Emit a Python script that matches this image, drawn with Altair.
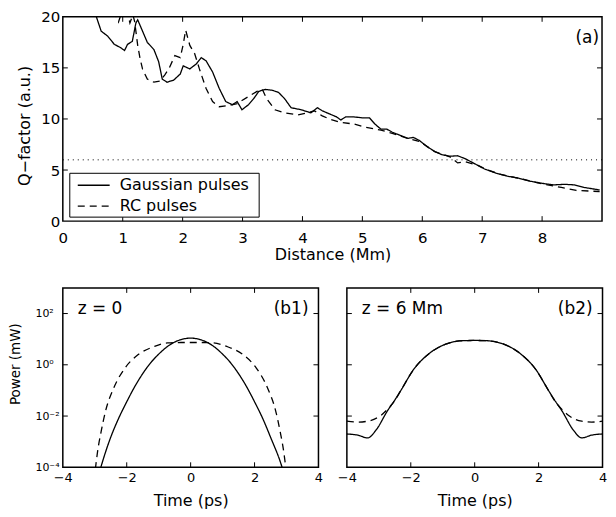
import altair as alt
import pandas as pd

FONT = "DejaVu Sans"

# ---------------- data: panel (a) ----------------
series_names = ["Gaussian pulses", "RC pulses"]

gauss_dist = [0.45, 0.56, 0.64, 0.75, 0.86, 0.96, 1.03, 1.08, 1.16, 1.22, 1.25, 1.33, 1.41, 1.52,
              1.60, 1.66, 1.74, 1.85, 1.96, 2.01, 2.12, 2.23, 2.31, 2.39, 2.50, 2.61, 2.72, 2.83,
              2.91, 2.99, 3.10, 3.20, 3.27, 3.38, 3.50, 3.60, 3.70, 3.81, 3.98, 4.14, 4.25, 4.33,
              4.45, 4.57, 4.64, 4.72, 4.86, 5.02, 5.12, 5.21, 5.31, 5.41, 5.50, 5.63, 5.76, 5.85,
              5.95, 6.08, 6.21, 6.33, 6.46, 6.59, 6.72, 6.88, 7.04, 7.23, 7.42, 7.61, 7.81, 8.00,
              8.19, 8.38, 8.54, 8.70, 8.96]
gauss_q = [21.5, 20.0, 18.6, 18.1, 17.3, 17.0, 16.7, 17.3, 17.6, 19.4, 19.7, 18.6, 17.5, 16.8,
           15.6, 13.9, 13.6, 13.8, 14.4, 15.2, 14.9, 15.4, 16.0, 15.7, 14.6, 13.0, 11.7, 11.4,
           11.7, 10.9, 11.4, 12.1, 12.7, 12.9, 12.8, 12.6, 12.0, 11.1, 10.9, 10.6, 11.1, 10.8,
           10.5, 10.2, 9.9, 10.2, 10.2, 10.1, 10.1, 9.5, 9.0, 9.0, 8.7, 8.4, 8.1, 8.2,
           7.9, 7.3, 6.8, 6.5, 6.35, 6.4, 6.1, 5.6, 5.1, 4.7, 4.4, 4.2, 3.9, 3.7,
           3.55, 3.6, 3.55, 3.3, 3.05]

rc_dist = [0.85, 0.93, 0.98, 1.08, 1.12, 1.17, 1.20, 1.25, 1.29, 1.33, 1.41, 1.52, 1.62, 1.70,
           1.77, 1.87, 1.96, 2.01, 2.05, 2.12, 2.20, 2.28, 2.39, 2.50, 2.61, 2.75, 2.91, 2.99,
           3.10, 3.24, 3.33, 3.40, 3.54, 3.70, 3.92, 4.09, 4.20, 4.33, 4.45, 4.61, 4.86, 5.05,
           5.31, 5.50, 5.76, 5.95, 6.21, 6.46, 6.59, 6.72, 6.91, 7.10, 7.29, 7.61, 8.00, 8.32,
           8.57, 8.96]
rc_q = [20.6, 19.5, 20.4, 20.4, 19.4, 20.2, 19.5, 17.2, 15.9, 14.9, 13.9, 13.6, 13.7, 14.3,
        14.9, 16.2, 16.0, 17.3, 18.7, 17.2, 16.4, 14.9, 13.0, 11.7, 11.2, 11.3, 11.5, 11.8,
        12.2, 12.7, 12.9, 12.0, 10.9, 10.6, 10.4, 10.6, 10.8, 10.3, 10.0, 9.7, 9.5, 9.2,
        8.9, 8.6, 8.1, 7.8, 6.8, 6.3, 5.7, 5.8, 5.5, 5.0, 4.6, 4.2, 3.65, 3.3,
        3.0, 2.9]

q_threshold = [6]
dist_ticks = [0, 1, 2, 3, 4, 5, 6, 7, 8]
q_ticks = [0, 5, 10, 15, 20]

# ---------------- data: panels (b1), (b2) ----------------
b1_gauss_t = [-2.9, -2.81, -2.5, -2.25, -2.0, -1.75, -1.5, -1.25, -1.0, -0.75, -0.5, -0.25, 0.0,
              0.25, 0.5, 0.75, 1.0, 1.25, 1.5, 1.75, 2.0, 2.25, 2.5, 2.86, 2.95]
b1_gauss_p = [4e-5, 1e-4, 1.5e-3, 8.3e-3, 0.036, 0.14, 0.45, 1.2, 2.6, 4.9, 7.7, 10.0, 11.0,
              10.0, 7.7, 4.9, 2.6, 1.2, 0.45, 0.14, 0.036, 8.3e-3, 1.5e-3, 1e-4, 4e-5]

b1_rc_t = [-3.05, -3.0, -2.92, -2.8, -2.66, -2.4, -2.05, -1.64, -1.13, -0.72, -0.3, 0.0,
           0.3, 0.72, 1.13, 1.64, 2.05, 2.4, 2.66, 2.8, 2.92, 3.0, 3.05]
b1_rc_p = [1e-5, 5e-5, 3.5e-4, 2.5e-3, 0.016, 0.13, 0.76, 2.5, 5.2, 7.1, 7.4, 7.4,
           7.4, 7.1, 5.2, 2.5, 0.76, 0.13, 0.016, 2.5e-3, 3.5e-4, 5e-5, 1e-5]

b2_gauss_t = [-4.0, -3.66, -3.35, -3.09, -2.73, -2.5, -2.32, -1.91, -1.40, -0.89, -0.38, 0.0,
              0.38, 0.89, 1.40, 1.91, 2.32, 2.5, 2.73, 3.09, 3.35, 3.66, 4.0]
b2_gauss_p = [2.0e-3, 1.8e-3, 1.4e-3, 2.8e-3, 0.016, 0.042, 0.095, 0.66, 2.9, 6.5, 8.7, 8.9,
              8.7, 6.5, 2.9, 0.66, 0.095, 0.042, 0.016, 2.8e-3, 1.4e-3, 1.8e-3, 2.0e-3]

b2_rc_t = [-4.0, -3.66, -3.35, -2.94, -2.7, -2.5, -2.32, -1.91, -1.40, -0.89, -0.38, 0.0,
           0.38, 0.89, 1.40, 1.91, 2.32, 2.5, 2.7, 2.94, 3.35, 3.66, 4.0]
b2_rc_p = [6.3e-3, 5.8e-3, 6.3e-3, 0.0105, 0.02, 0.04, 0.095, 0.66, 2.9, 6.5, 8.7, 8.9,
           8.7, 6.5, 2.9, 0.66, 0.095, 0.04, 0.02, 0.0105, 6.3e-3, 5.8e-3, 6.3e-3]

time_ticks = [-4, -2, 0, 2, 4]
power_ticks = [1e-4, 1e-2, 1, 1e2]
panel_labels = ["(a)", "(b1)", "(b2)"]
z_labels = ["z = 0", "z = 6 Mm"]

# ---------------- layout constants ----------------
WA, HA = 541, 205
WB, HB = 256.5, 180
TICK = 5
DASH = [7, 5]
LW = 1.3
dash_scale = alt.Scale(domain=series_names, range=[[1, 0], DASH])


def frame_ticks(xvals, yvals, xscale, yscale, xaxis, yaxis, w, h):
    dx = pd.DataFrame({"v": xvals})
    dy = pd.DataFrame({"v": yvals})
    bx = alt.Chart(dx).mark_rule(color="black", strokeWidth=1)
    by = alt.Chart(dy).mark_rule(color="black", strokeWidth=1)
    return [
        bx.encode(x=alt.X("v:Q", scale=xscale, axis=xaxis), y=alt.value(h), y2=alt.value(h - TICK)),
        bx.encode(x=alt.X("v:Q", scale=xscale, axis=xaxis), y=alt.value(0), y2=alt.value(TICK)),
        by.encode(y=alt.Y("v:Q", scale=yscale, axis=yaxis), x=alt.value(0), x2=alt.value(TICK)),
        by.encode(y=alt.Y("v:Q", scale=yscale, axis=yaxis), x=alt.value(w), x2=alt.value(w - TICK)),
    ]


def label(text, x, y, align, size=17):
    return alt.Chart(pd.DataFrame({"t": [text]})).mark_text(
        align=align, baseline="middle", fontSize=size, font=FONT, color="black"
    ).encode(x=alt.value(x), y=alt.value(y), text="t:N")


# ---------------- panel (a) ----------------
df_a = pd.concat([
    pd.DataFrame({"distance": gauss_dist, "q": gauss_q, "series": series_names[0]}),
    pd.DataFrame({"distance": rc_dist, "q": rc_q, "series": series_names[1]}),
])
xa = alt.Scale(domain=[0, 9], nice=False, zero=False)
ya = alt.Scale(domain=[0, 20], nice=False)
xa_axis = alt.Axis(
    values=dist_ticks, title="Distance (Mm)", ticks=False, tickSize=0, domain=False, grid=False,
    labelFlush=False, labelFontSize=15, labelPadding=16, labelBaseline="middle",
    titleFontSize=16, titleFontWeight="normal", titleY=34, titleBaseline="middle")
ya_axis = alt.Axis(
    values=q_ticks, title="Q\u2212factor (a.u.)", ticks=False, tickSize=0, domain=False, grid=False,
    labelFontSize=15, labelPadding=3, labelFlush=False,
    titleFontSize=16, titleFontWeight="normal", titleX=-38, titleY=109, titleAlign="center",
    titleBaseline="middle", titleAngle=270)

lines_a = alt.Chart(df_a).mark_line(clip=True, color="black", strokeWidth=LW).encode(
    x=alt.X("distance:Q", scale=xa, axis=xa_axis),
    y=alt.Y("q:Q", scale=ya, axis=ya_axis),
    strokeDash=alt.StrokeDash("series:N", scale=dash_scale, legend=None),
)

thr = alt.Chart(pd.DataFrame({"q": q_threshold})).mark_rule(
    color="black", strokeWidth=1, strokeDash=[1, 4]).encode(y=alt.Y("q:Q", scale=ya, axis=ya_axis))

one = pd.DataFrame({"t": [0]})
leg_box = alt.Chart(one).mark_rect(
    fill="white", stroke="black", strokeWidth=1).encode(
    x=alt.value(7), x2=alt.value(197), y=alt.value(157), y2=alt.value(201))
leg_l1 = alt.Chart(one).mark_rule(color="black", strokeWidth=LW).encode(
    x=alt.value(15), x2=alt.value(47), y=alt.value(169))
leg_l2 = alt.Chart(one).mark_rule(color="black", strokeWidth=LW, strokeDash=DASH).encode(
    x=alt.value(15), x2=alt.value(47), y=alt.value(190))
leg_t1 = label(series_names[0], 57, 169, "left", 16)
leg_t2 = label(series_names[1], 57, 190, "left", 16)

chart_a = alt.layer(
    lines_a, thr, *frame_ticks(dist_ticks[1:], q_ticks[1:-1], xa, ya, xa_axis, ya_axis, WA, HA),
    leg_box, leg_l1, leg_l2, leg_t1, leg_t2,
    label(panel_labels[0], WA - 3, 21, "right"),
).properties(width=WA, height=HA)

# ---------------- panels (b1), (b2) ----------------
xb = alt.Scale(domain=[-4, 4], nice=False, zero=False)
yb = alt.Scale(type="log", domain=[1e-4, 1e3], nice=False)

pow_label_expr = ("datum.value >= 10 ? '10\u00b2' : datum.value >= 0.5 ? '10\u2070' : "
                  "datum.value >= 0.005 ? '10\u207b\u00b2' : '10\u207b\u2074'")

xb_axis = alt.Axis(values=time_ticks, title="Time (ps)", ticks=False, tickSize=0, domain=False,
                   grid=False, labelFlush=False, labelFontSize=13, labelPadding=10.5,
                   labelBaseline="middle", titleFontSize=16, titleFontWeight="normal",
                   titleY=33, titleBaseline="middle")
yb_axis_lab = alt.Axis(values=power_ticks, labelExpr=pow_label_expr, title="Power (mW)",
                       ticks=False, tickSize=0, domain=False, grid=False, labelAlign="left",
                       labelPadding=28, labelFontSize=11, labelBaseline="middle", labelFlush=False,
                       titleFontSize=13.5, titleFontWeight="normal", titleX=-47, titleY=76,
                       titleAlign="center", titleBaseline="middle", titleAngle=270)
yb_axis_none = alt.Axis(values=power_ticks, labels=False, title=None, ticks=False, tickSize=0,
                        domain=False, grid=False)


def panel_b(t_g, p_g, t_r, p_r, yaxis, z_text, tag):
    df = pd.concat([
        pd.DataFrame({"time": t_g, "power": p_g, "series": series_names[0]}),
        pd.DataFrame({"time": t_r, "power": p_r, "series": series_names[1]}),
    ])
    lines = alt.Chart(df).mark_line(clip=True, color="black", strokeWidth=LW,
                                    interpolate="monotone").encode(
        x=alt.X("time:Q", scale=xb, axis=xb_axis),
        y=alt.Y("power:Q", scale=yb, axis=yaxis),
        strokeDash=alt.StrokeDash("series:N", scale=dash_scale, legend=None),
    )
    return alt.layer(
        lines, *frame_ticks(time_ticks[1:-1], power_ticks[1:], xb, yb, xb_axis, yaxis, WB, HB),
        label(z_text, 15, 21, "left"),
        label(tag, WB - 10, 21, "right"),
    ).properties(width=WB, height=HB)


chart_b1 = panel_b(b1_gauss_t, b1_gauss_p, b1_rc_t, b1_rc_p, yb_axis_lab, z_labels[0], panel_labels[1])
chart_b2 = panel_b(b2_gauss_t, b2_gauss_p, b2_rc_t, b2_rc_p, yb_axis_none, z_labels[1], panel_labels[2])

chart = alt.vconcat(
    chart_a,
    alt.hconcat(chart_b1, chart_b2, spacing=28, bounds="flush"),
    spacing=67, bounds="flush",
).properties(
    padding={"left": 0, "top": 0, "right": 0, "bottom": 0},
).configure(
    font=FONT,
).configure_view(
    stroke="black", strokeWidth=1.5,
).configure_axis(
    labelColor="black", titleColor="black", labelFont=FONT, titleFont=FONT,
)

chart.save("out.html", embed_options={"renderer": "svg", "actions": False})
